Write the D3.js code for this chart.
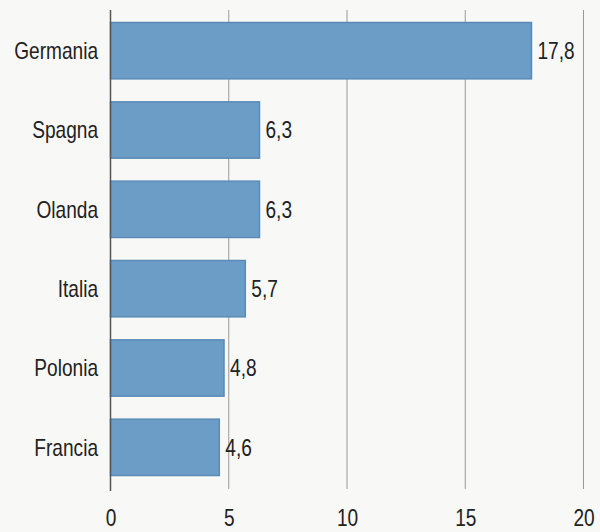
<!DOCTYPE html>
<html>
<head>
<meta charset="utf-8">
<script src="https://cdn.jsdelivr.net/npm/d3@7"></script>
<style>
  html, body { margin: 0; padding: 0; background: #f8f8f6; }
  svg { display: block; }
  text { font-family: "Liberation Sans", Arial, sans-serif; fill: #222; }
</style>
</head>
<body>
<svg id="chart" width="600" height="532"></svg>
<script>
// Paesi e valori (percentuali)
const countries = ["Germania", "Spagna", "Olanda", "Italia", "Polonia", "Francia"];
const values = [17.8, 6.3, 6.3, 5.7, 4.8, 4.6];
const xTicks = [0, 5, 10, 15, 20];

const svg = d3.select("#chart");
const W = 600, H = 532;
const FS = 23;        // dimensione del testo
const NARROW = 0.83;  // compressione orizzontale per un carattere stretto

svg.append("rect").attr("width", W).attr("height", H).attr("fill", "#f8f8f6");

const x = d3.scaleLinear().domain([0, 20]).range([110.5, 583.5]);
const y = d3.scaleBand().domain(countries).range([11, 487])
  .paddingInner(0.29).paddingOuter(0.145);

const fmt = v => d3.format(".1f")(v).replace(".", ",");

// Griglia verticale
svg.append("g").selectAll("line").data(xTicks.filter(t => t > 0)).join("line")
  .attr("x1", d => x(d)).attr("x2", d => x(d))
  .attr("y1", 10).attr("y2", 489)
  .attr("stroke", "#9a9a9a").attr("stroke-width", 1);

// Barre
svg.append("g").selectAll("rect").data(countries).join("rect")
  .attr("x", x(0))
  .attr("y", d => y(d))
  .attr("width", (d, i) => x(values[i]) - x(0))
  .attr("height", y.bandwidth())
  .attr("fill", "#6c9dc7")
  .attr("stroke", "#5a8bb7")
  .attr("stroke-width", 1.5);

// Asse dello zero
svg.append("line")
  .attr("x1", x(0)).attr("x2", x(0))
  .attr("y1", 10).attr("y2", 491)
  .attr("stroke", "#555").attr("stroke-width", 1.5);

// Testo compresso in orizzontale
function narrowText(g, px, py, anchor, str) {
  g.append("text")
    .attr("transform", `translate(${px},${py}) scale(${NARROW},1)`)
    .attr("text-anchor", anchor)
    .attr("dy", "0.36em")
    .attr("font-size", FS)
    .text(str);
}

// Etichette dei paesi
const gLab = svg.append("g");
countries.forEach(c => narrowText(gLab, 98, y(c) + y.bandwidth() / 2, "end", c));

// Valori
const gVal = svg.append("g");
countries.forEach((c, i) => narrowText(gVal, x(values[i]) + 6, y(c) + y.bandwidth() / 2, "start", fmt(values[i])));

// Etichette asse x
const xAxis = d3.axisBottom(x).tickValues(xTicks).tickSize(0).tickFormat(d => d);
const gx = svg.append("g").attr("transform", "translate(0,518)").call(xAxis);
gx.select(".domain").remove();
gx.selectAll("text")
  .attr("y", 0).attr("dy", "0.36em")
  .attr("transform", `scale(${NARROW},1)`)
  .attr("font-size", FS)
  .style("font-family", "'Liberation Sans', Arial, sans-serif")
  .attr("fill", "#222");
</script>
</body>
</html>
